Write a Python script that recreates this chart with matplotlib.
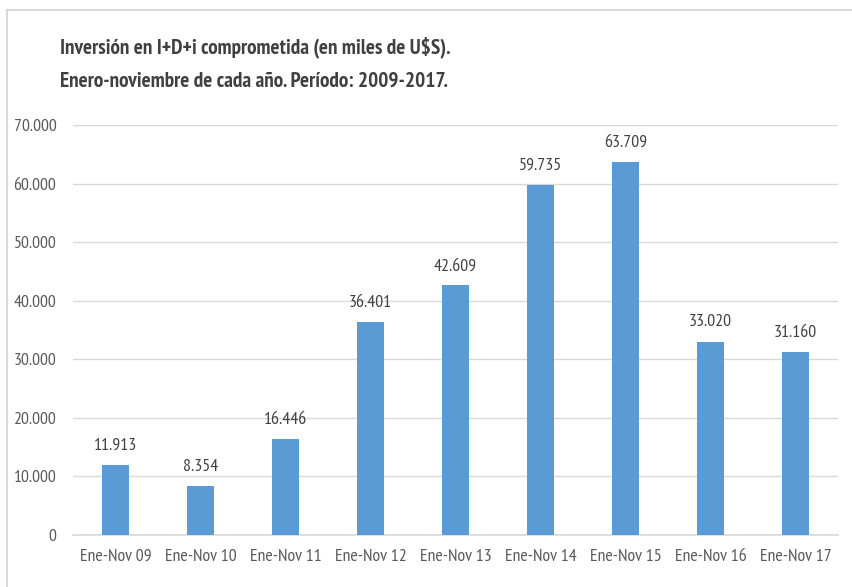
import matplotlib.pyplot as plt
from matplotlib.patches import Rectangle
from matplotlib.ticker import FuncFormatter

categories = ['Ene-Nov 09', 'Ene-Nov 10', 'Ene-Nov 11', 'Ene-Nov 12', 'Ene-Nov 13',
              'Ene-Nov 14', 'Ene-Nov 15', 'Ene-Nov 16', 'Ene-Nov 17']
values = [11913, 8354, 16446, 36401, 42609, 59735, 63709, 33020, 31160]
yticks = [0, 10000, 20000, 30000, 40000, 50000, 60000, 70000]

plt.rcParams['font.family'] = ['PT Sans Narrow', 'DejaVu Sans']

W, H = 853, 587
fig = plt.figure(figsize=(W / 100, H / 100), dpi=100)

# light frame around the chart
fig.patches.append(Rectangle((7 / W, -0.01), 1.0, 1 - 10 / H + 0.01, transform=fig.transFigure,
                             fill=False, edgecolor='#D9D9D9', linewidth=1.5))

ax = fig.add_axes([73 / W, 52 / H, 765 / W, 410 / H])
x = range(len(categories))
ax.bar(x, values, width=0.32, color='#5B9BD5', zorder=3)

def fmt(v, pos=None):
    return '{:,.0f}'.format(v).replace(',', '.')

for i, v in zip(x, values):
    ax.text(i, v + 1900, fmt(v), ha='center', va='bottom', fontsize=12.8, color='#404040')

ax.set_xlim(-0.5, len(categories) - 0.5)
ax.set_ylim(0, 70000)
ax.set_yticks(yticks)
ax.yaxis.set_major_formatter(FuncFormatter(fmt))
ax.set_xticks(list(x))
ax.set_xticklabels(categories)
ax.tick_params(axis='both', length=0, labelsize=12.8, labelcolor='#595959')
ax.tick_params(axis='x', pad=10)
ax.tick_params(axis='y', pad=12)
ax.grid(axis='y', color='#D9D9D9', linewidth=1, zorder=0)
for s in ['top', 'right', 'left']:
    ax.spines[s].set_visible(False)
ax.spines['bottom'].set_color('#D9D9D9')
ax.spines['bottom'].set_linewidth(1.2)

fig.text(60 / W, 1 - 47 / H, 'Inversión en I+D+i comprometida (en miles de U$S).',
         fontsize=15.3, fontweight='bold', color='#404040', va='center')
fig.text(60 / W, 1 - 81 / H, 'Enero-noviembre de cada año. Período: 2009-2017.',
         fontsize=15.3, fontweight='bold', color='#404040', va='center')

fig.savefig('out.png', dpi=100)
